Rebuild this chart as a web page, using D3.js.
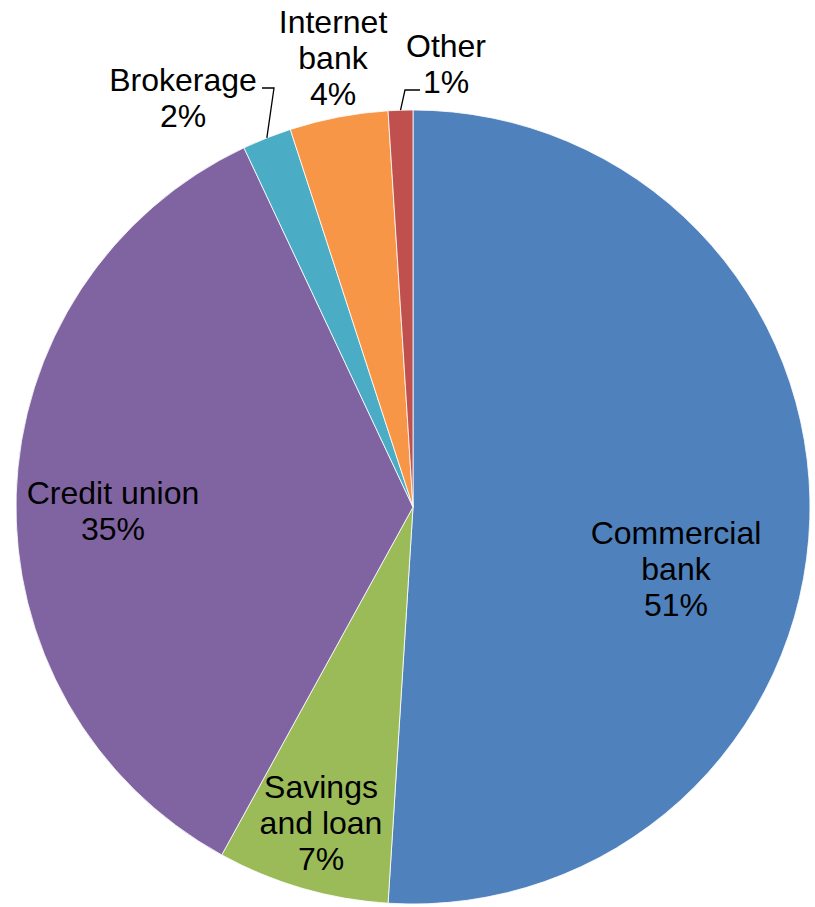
<!DOCTYPE html>
<html>
<head>
<meta charset="utf-8">
<script src="https://cdn.jsdelivr.net/npm/d3@7"></script>
<style>
  html, body { margin: 0; padding: 0; background: #fff; }
  svg { display: block; }
</style>
</head>
<body>
<script>
// Share of accounts by type of institution, clockwise from 12 o'clock
const categories = ["Commercial bank", "Savings and loan", "Credit union", "Brokerage", "Internet bank", "Other"];
const shares = [51, 7, 35, 2, 4, 1];
const labelLines = [["Commercial", "bank"], ["Savings", "and loan"], ["Credit union"], ["Brokerage"], ["Internet", "bank"], ["Other"]];
const colors = ["#4F81BD", "#9BBB59", "#8064A2", "#4BACC6", "#F79646", "#C0504D"];

// Label centres relative to the pie centre, and elbow points for leader lines
const labelPos = [[263, 62], [-92, 316], [-300, 4], [-230, -409], [-80, -449], [33, -443]];
const leaderElbow = [null, null, null, [[-151, -419], [-139, -419]], null, [[7, -417], [-8, -417]]];

const W = 815, H = 907;
const cx = 413, cy = 507, R = 397;
const fontSize = 32, lineH = 36;

const svg = d3.select("body").append("svg").attr("width", W).attr("height", H);
const g = svg.append("g").attr("transform", `translate(${cx},${cy})`);

const data = categories.map((c, i) => ({ name: c, value: shares[i], lines: labelLines[i], color: colors[i], i }));

const pie = d3.pie().value(d => d.value).sort(null);
const arc = d3.arc().innerRadius(0).outerRadius(R);
const edgeArc = d3.arc().innerRadius(R).outerRadius(R);
const arcs = pie(data);

g.selectAll("path.slice")
  .data(arcs)
  .join("path")
  .attr("class", "slice")
  .attr("d", arc)
  .attr("fill", d => d.data.color)
  .attr("stroke", "#ffffff")
  .attr("stroke-width", 0.8);

// Leader lines for the thin slices
arcs.forEach(d => {
  const elbow = leaderElbow[d.data.i];
  if (!elbow) return;
  const [ex, ey] = edgeArc.centroid(d);
  const pts = [elbow[0], elbow[1], [ex, ey]];
  g.append("path")
    .attr("d", d3.line()(pts))
    .attr("fill", "none")
    .attr("stroke", "#000")
    .attr("stroke-width", 1.3);
});

// Data labels: name lines followed by the percentage
arcs.forEach(d => {
  const [lx, ly] = labelPos[d.data.i];
  const lines = [...d.data.lines, d.data.value + "%"];
  const top = ly - (lines.length - 1) * lineH / 2;
  const t = g.append("text")
    .attr("text-anchor", "middle")
    .attr("font-family", "'Liberation Sans', Arial, sans-serif")
    .attr("font-size", fontSize)
    .attr("fill", "#000");
  lines.forEach((s, k) => {
    t.append("tspan")
      .attr("x", lx)
      .attr("y", top + k * lineH)
      .attr("dy", "0.35em")
      .text(s);
  });
});
</script>
</body>
</html>
